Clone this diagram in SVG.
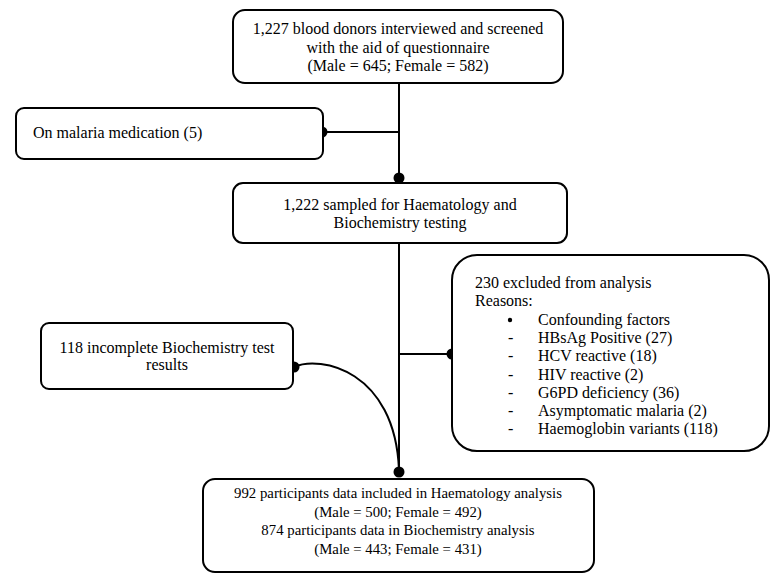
<svg xmlns="http://www.w3.org/2000/svg" width="771" height="575" viewBox="0 0 771 575">
<style>
.box{fill:#fff;stroke:#000;stroke-width:2}
.t{font-family:"Liberation Serif","Times New Roman",serif;font-size:16px;fill:#000}
.s{font-size:14.8px}
.c{text-anchor:middle}
.ln{fill:none;stroke:#000;stroke-width:2}
.dot{fill:#000}
</style>
<rect width="771" height="575" fill="#fff"/>
<g id="connectors">
<line class="ln" x1="399" y1="83" x2="399" y2="178"/>
<line class="ln" x1="322" y1="132" x2="399" y2="132"/>
<line class="ln" x1="399" y1="243" x2="399" y2="472"/>
<line class="ln" x1="399" y1="354" x2="452" y2="354"/>
<path class="ln" d="M294,367 C320,355 395,370 399,470"/>
<circle class="dot" cx="322" cy="132" r="5.5"/>
<circle class="dot" cx="399" cy="178" r="5.5"/>
<circle class="dot" cx="452" cy="354" r="5.5"/>
<circle class="dot" cx="294" cy="367" r="5.5"/>
<circle class="dot" cx="399" cy="472" r="5.5"/>
</g>
<g id="screened">
<rect class="box" x="233" y="10" width="330" height="73" rx="12"/>
<text class="t c" x="398" y="34">1,227 blood donors interviewed and screened</text>
<text class="t c" x="398" y="53">with the aid of questionnaire</text>
<text class="t c" x="398" y="71">(Male = 645; Female = 582)</text>
</g>
<g id="malaria">
<rect class="box" x="16" y="108" width="307" height="51" rx="8"/>
<text class="t" x="33" y="138">On malaria medication (5)</text>
</g>
<g id="sampled">
<rect class="box" x="233" y="183" width="334" height="60" rx="10"/>
<text class="t c" x="400" y="210">1,222 sampled for Haematology and</text>
<text class="t c" x="400" y="228">Biochemistry testing</text>
</g>
<g id="excluded">
<rect class="box" x="452" y="255" width="317" height="196" rx="25"/>
<text class="t" x="475" y="288">230 excluded from analysis</text>
<text class="t" x="475" y="306">Reasons:</text>
<circle class="dot" cx="510" cy="320" r="2.2"/>
<text class="t" x="538" y="325">Confounding factors</text>
<text class="t" x="508" y="343">-</text><text class="t" x="538" y="343">HBsAg Positive (27)</text>
<text class="t" x="508" y="361">-</text><text class="t" x="538" y="361">HCV reactive (18)</text>
<text class="t" x="508" y="380">-</text><text class="t" x="538" y="380">HIV reactive (2)</text>
<text class="t" x="508" y="398">-</text><text class="t" x="538" y="398">G6PD deficiency (36)</text>
<text class="t" x="508" y="416">-</text><text class="t" x="538" y="416">Asymptomatic malaria (2)</text>
<text class="t" x="508" y="434">-</text><text class="t" x="538" y="434">Haemoglobin variants (118)</text>
</g>
<g id="incomplete">
<rect class="box" x="41" y="323" width="252" height="66" rx="8"/>
<text class="t c" x="167" y="353">118 incomplete Biochemistry test</text>
<text class="t c" x="167" y="370">results</text>
</g>
<g id="included">
<rect class="box" x="203" y="479" width="391" height="93" rx="12"/>
<text class="t s c" x="398" y="498">992 participants data included in Haematology analysis</text>
<text class="t s c" x="398" y="517">(Male = 500; Female = 492)</text>
<text class="t s c" x="398" y="535">874 participants data in Biochemistry analysis</text>
<text class="t s c" x="398" y="554">(Male = 443; Female = 431)</text>
</g>
</svg>
